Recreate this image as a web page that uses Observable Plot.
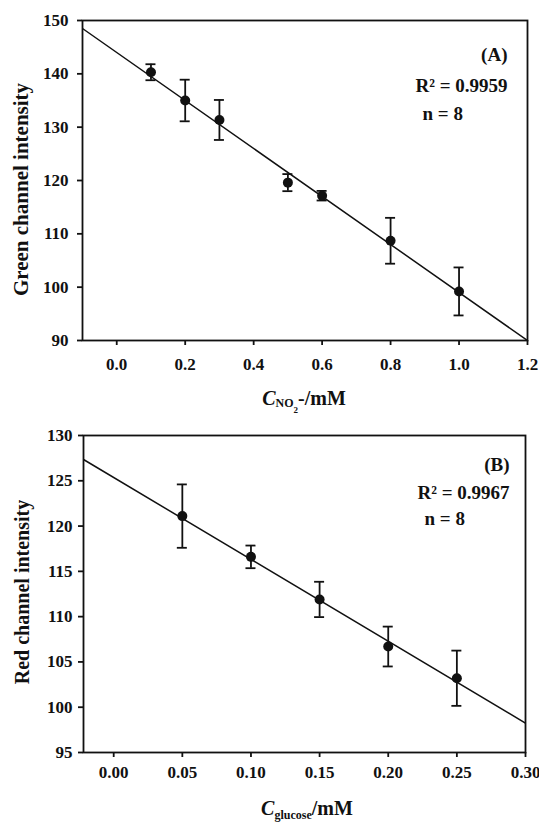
<!DOCTYPE html>
<html>
<head>
<meta charset="utf-8">
<script src="https://cdn.jsdelivr.net/npm/d3@7"></script>
<script src="https://cdn.jsdelivr.net/npm/@observablehq/plot@0.6"></script>
<style>
  body { margin: 0; background: #fff; }
  svg { display: block; }
</style>
</head>
<body>
<div id="chart"></div>
<script>
// ---- Panel A data ----
const concA = [0.1, 0.2, 0.3, 0.5, 0.6, 0.8, 1.0];
const greenA = [140.3, 135.0, 131.35, 119.6, 117.15, 108.7, 99.2];
const errA = [1.5, 3.9, 3.75, 1.6, 0.9, 4.3, 4.5];
const fitXA = [-0.1, 1.2];
const fitYA = [148.5, 90];
const xTicksA = [0.0, 0.2, 0.4, 0.6, 0.8, 1.0, 1.2];
const yTicksA = [90, 100, 110, 120, 130, 140, 150];

// ---- Panel B data ----
const concB = [0.05, 0.10, 0.15, 0.20, 0.25];
const redB = [121.1, 116.6, 111.9, 106.7, 103.2];
const errB = [3.5, 1.25, 1.95, 2.2, 3.05];
const fitXB = [-0.022, 0.30];
const fitYB = [127.35, 98.25];
const xTicksB = [0.00, 0.05, 0.10, 0.15, 0.20, 0.25, 0.30];
const yTicksB = [95, 100, 105, 110, 115, 120, 125, 130];

const FONT = "'Liberation Serif', 'Times New Roman', serif";
const INK = "#111";

function panel(o) {
  const pts = o.xs.map((x, i) => ({x, y: o.ys[i], lo: o.ys[i] - o.err[i], hi: o.ys[i] + o.err[i]}));
  const fit = o.fitX.map((x, i) => ({x, y: o.fitY[i]}));
  const svg = Plot.plot({
    width: 539,
    height: o.height,
    marginTop: o.mt,
    marginBottom: o.mb,
    marginLeft: o.ml,
    marginRight: o.mr,
    style: {fontFamily: FONT, fontSize: "17px", fontWeight: "bold", color: INK, background: "#fff"},
    x: {domain: o.xDomain, label: null},
    y: {domain: o.yDomain, label: null},
    marks: [
      Plot.line(fit, {x: "x", y: "y", stroke: INK, strokeWidth: 1.5, clip: true}),
      Plot.ruleX(pts, {x: "x", y1: "lo", y2: "hi", stroke: INK, strokeWidth: 1.8}),
      Plot.ruleY(pts, {y: "lo", x1: "x", x2: "x", insetLeft: -5, insetRight: -5, stroke: INK, strokeWidth: 1.8}),
      Plot.ruleY(pts, {y: "hi", x1: "x", x2: "x", insetLeft: -5, insetRight: -5, stroke: INK, strokeWidth: 1.8}),
      Plot.dot(pts, {x: "x", y: "y", r: 5, fill: INK, stroke: "none"}),
      Plot.axisX({ticks: o.xTicks, tickFormat: d3.format(o.xFmt), tickSize: 5, tickPadding: o.xPad,
        strokeWidth: 1.8, fontSize: 17, fontWeight: "bold", label: null}),
      Plot.axisY({ticks: o.yTicks, tickFormat: d3.format("d"), tickSize: 5, tickPadding: o.yPad,
        strokeWidth: 1.8, fontSize: 17, fontWeight: "bold", label: null}),
      Plot.frame({stroke: INK, strokeWidth: 1.8}),
      Plot.text([o.tag], {frameAnchor: "top-right", dx: o.tagDx, dy: o.tagDy, textAnchor: "end", fontSize: 19, fontWeight: "bold"}),
      Plot.text([o.r2], {frameAnchor: "top-right", dx: o.tagDx, dy: o.r2Dy, textAnchor: "end", fontSize: 19, fontWeight: "bold"}),
      Plot.text([o.n], {frameAnchor: "top-right", dx: o.nDx, dy: o.nDy, textAnchor: "start", fontSize: 19, fontWeight: "bold"}),
      Plot.text([o.yLabel], {frameAnchor: "left", textAnchor: "middle", rotate: -90, dx: o.yLabDx, dy: o.yLabDy, fontSize: o.yLabSize, fontWeight: "bold"})
    ]
  });
  // x-axis label with subscripts
  const t = d3.select(svg).append("text")
    .attr("x", o.xLabX).attr("y", o.xLabY)
    .attr("text-anchor", "middle")
    .attr("font-family", FONT).attr("font-weight", "bold").attr("font-size", 20).attr("fill", INK);
  o.xLabel(t);
  return svg;
}

const root = document.getElementById("chart");

root.appendChild(panel({
  height: 420, mt: 20, mb: 80, ml: 82, mr: 12,
  xs: concA, ys: greenA, err: errA, fitX: fitXA, fitY: fitYA,
  xDomain: [-0.1, 1.2], yDomain: [90, 150], xTicks: xTicksA, yTicks: yTicksA, xFmt: ".1f",
  xPad: 12, yPad: 9,
  tag: "(A)", r2: "R² = 0.9959", n: "n = 8",
  tagDx: -20, tagDy: 27, r2Dy: 58, nDx: -105, nDy: 86,
  yLabel: "Green channel intensity", yLabDx: -61, yLabDy: 9, yLabSize: 21,
  xLabX: 304, xLabY: 405,
  xLabel: t => {
    t.append("tspan").attr("font-style", "italic").text("C");
    t.append("tspan").attr("font-size", 12).attr("dy", 2).text("NO");
    t.append("tspan").attr("font-size", 9).attr("dy", 6).text("2");
    t.append("tspan").attr("font-size", 20).attr("dy", -8).text("-/mM");
  }
}));

root.appendChild(panel({
  height: 402, mt: 15, mb: 70, ml: 83, mr: 14,
  xs: concB, ys: redB, err: errB, fitX: fitXB, fitY: fitYB,
  xDomain: [-0.022, 0.30], yDomain: [95, 130], xTicks: xTicksB, yTicks: yTicksB, xFmt: ".2f",
  xPad: 8, yPad: 6,
  tag: "(B)", r2: "R² = 0.9967", n: "n = 8",
  tagDx: -16, tagDy: 22, r2Dy: 50, nDx: -101, nDy: 76,
  yLabel: "Red channel intensity", yLabDx: -61, yLabDy: -2, yLabSize: 20,
  xLabX: 307, xLabY: 395,
  xLabel: t => {
    t.append("tspan").attr("font-style", "italic").text("C");
    t.append("tspan").attr("font-size", 12).attr("dy", 4).text("glucose");
    t.append("tspan").attr("font-size", 20).attr("dy", -4).text("/mM");
  }
}));
</script>
</body>
</html>
